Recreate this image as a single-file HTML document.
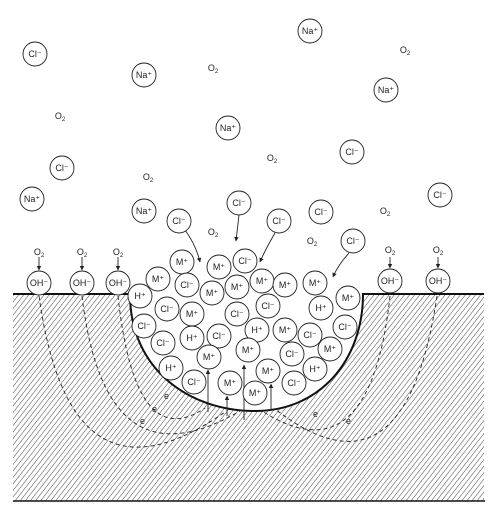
<!DOCTYPE html>
<html><head><meta charset="utf-8"><style>
html,body{margin:0;padding:0;background:#fff}
svg{display:block}
text{font-family:"Liberation Sans",sans-serif;fill:#222}
</style></head><body>
<svg id="svg" width="498" height="515" viewBox="0 0 498 515" xmlns="http://www.w3.org/2000/svg">
<defs>
<pattern id="hatch" width="4" height="4" patternUnits="userSpaceOnUse" patternTransform="rotate(38)">
<line x1="0" y1="0" x2="0" y2="4" stroke="#444" stroke-width="1"/>
</pattern>
<marker id="arr" viewBox="0 0 10 10" refX="9" refY="5" markerWidth="5" markerHeight="5" orient="auto"><path d="M0,0 L10,5 L0,10 z" fill="#222"/></marker>
</defs>
<path d="M13,294 L130,294 C130,370 190,411 255,411 C320,411 363,360 363,294 L484,294 L484,501 L13,501 Z" fill="url(#hatch)"/>
<path d="M13,294 L130,294 C130,370 190,411 255,411 C320,411 363,360 363,294 L484,294" fill="none" stroke="#111" stroke-width="2"/>
<line x1="13" y1="501" x2="485" y2="501" stroke="#111" stroke-width="1.5"/>
<g fill="none" stroke="#222" stroke-width="0.9" stroke-dasharray="4,3">
<path d="M39,296 Q70,520 225,412"/>
<path d="M82,296 Q105,490 240,411"/>
<path d="M118,296 Q135,455 205,408"/>
<path d="M390,296 Q370,480 262,411"/>
<path d="M437,296 Q405,510 275,409"/>
</g>
<g font-size="9">
<text x="164" y="399">e</text><text x="152" y="412">e</text><text x="140" y="424">e</text>
<text x="313" y="417">e</text><text x="346" y="424">e</text>
</g>
<g stroke="#222" stroke-width="0.9" fill="none" marker-end="url(#arr)">
<path d="M185,230 Q196,245 200,262"/>
<path d="M239,215 L236,241"/>
<path d="M275,233 Q265,250 260,262"/>
<path d="M349,253 Q338,265 333,277"/>
<line x1="208" y1="412" x2="208" y2="370"/>
<line x1="227" y1="416" x2="227" y2="396"/>
<line x1="244" y1="420" x2="244" y2="365"/>
<line x1="271" y1="410" x2="271" y2="384"/>
<line x1="39" y1="257" x2="39" y2="270"/>
<line x1="82" y1="257" x2="82" y2="270"/>
<line x1="118" y1="257" x2="118" y2="270"/>
<line x1="390" y1="257" x2="390" y2="268"/>
<line x1="438" y1="257" x2="438" y2="268"/>
</g>
<g id="ions"></g>
</svg>
<script>
const ionLabels=["Cl⁻","Na⁺","Na⁺","Na⁺","Na⁺","Cl⁻","Cl⁻","Na⁺","Na⁺","Cl⁻","Cl⁻","Cl⁻","Cl⁻","Cl⁻","Cl⁻",
"OH⁻","OH⁻","OH⁻","OH⁻","OH⁻",
"M⁺","M⁺","Cl⁻","M⁺","Cl⁻","M⁺","M⁺","M⁺","M⁺","M⁺","H⁺","Cl⁻","M⁺","Cl⁻","Cl⁻","H⁺","M⁺","Cl⁻","Cl⁻","H⁺","Cl⁻","H⁺","M⁺","Cl⁻","Cl⁻","M⁺","M⁺","Cl⁻","M⁺","H⁺","Cl⁻","M⁺","M⁺","M⁺","Cl⁻","H⁺"];
const ionX=[35,144,310,386,228,352,62,32,144,179,239,279,321,440,353,
39,82,118,390,438,
182,219,245,158,187,212,237,262,285,315,140,167,192,237,268,321,348,144,163,192,219,257,285,310,345,209,248,292,330,171,194,230,255,268,294,315];
const ionY=[54,75,31,90,128,152,168,199,211,221,203,221,212,195,241,
283,283,283,281,281,
262,267,261,279,285,293,287,281,285,283,296,309,314,314,306,308,298,326,343,338,336,330,330,335,327,357,350,354,349,368,382,383,393,371,383,369];
const o2X=[213,405,60,272,148,385,213,312,39,82,118,390,438];
const o2Y=[68,50,116,158,177,211,232,241,252,252,252,250,250];
const g=document.getElementById('ions');
const NS='http://www.w3.org/2000/svg';
for(let i=0;i<ionLabels.length;i++){
  const c=document.createElementNS(NS,'circle');
  
  
  c.setAttribute('cx',ionX[i]);c.setAttribute('cy',ionY[i]);c.setAttribute('r',12);
  c.setAttribute('fill','#fff');c.setAttribute('stroke','#222');c.setAttribute('stroke-width','0.9');
  g.appendChild(c);
  const t=document.createElementNS(NS,'text');
  
  
  t.setAttribute('x',ionX[i]);t.setAttribute('y',ionY[i]+3);
  t.setAttribute('text-anchor','middle');t.setAttribute('font-size','9');
  t.textContent=ionLabels[i];
  g.appendChild(t);
}
for(let i=0;i<o2X.length;i++){
  const t=document.createElementNS(NS,'text');
  
  
  t.setAttribute('x',o2X[i]);t.setAttribute('y',o2Y[i]+3);
  t.setAttribute('text-anchor','middle');t.setAttribute('font-size','9');
  t.innerHTML='O<tspan font-size="6" dy="2">2</tspan>';
  g.appendChild(t);
}
</script>
</body></html>
